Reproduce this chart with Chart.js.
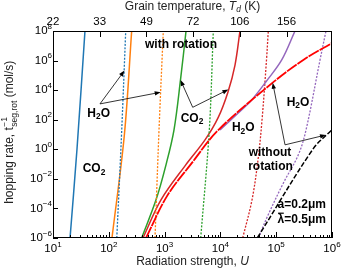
<!DOCTYPE html>
<html>
<head>
<meta charset="utf-8">
<script src="https://cdn.jsdelivr.net/npm/chart.js@4.4.0/dist/chart.umd.min.js"></script>
<style>
  html, body { margin: 0; padding: 0; background: #fff; }
</style>
</head>
<body>
<canvas id="chart" width="346" height="273"></canvas>
<script>
// axis ticks
const xExponents = [1, 2, 3, 4, 5, 6];
const yExponents = [-6, -4, -2, 0, 2, 4, 6, 8];
const tempLabels = ['22', '33', '49', '72', '106', '156'];
const tempTickU = [10, 68.7, 472, 3243, 22280, 153100];

// curves: U values and hopping rates (mol/s)
const blueSolidU = [20.2, 26.9, 37.4];
const blueSolidRate = [1e-6, 1, 1e8];
const blueDotU = [139, 169, 201];
const blueDotRate = [1e-6, 9.3, 1e8];
const orangeSolidU = [114, 190, 257];
const orangeSolidRate = [1e-6, 9.3, 1e8];
const orangeDotU = [673, 794, 948];
const orangeDotRate = [1e-6, 20, 1e8];
const greenSolidU = [388, 702, 1059, 1472, 1927, 2421];
const greenSolidRate = [1e-6, 3.8e-4, 0.089, 20, 4.9e4, 1e8];
const greenDotU = [4436, 6324, 7464];
const greenDotRate = [1e-6, 20, 1e8];
const redSolidU = [410, 861, 2323, 5300, 9060, 13680, 18270, 22440];
const redSolidRate = [1e-6, 3.8e-4, 0.076, 4.3, 132, 7600, 5e5, 1e8];
const redDotU = [25100, 36800, 47200, 55700, 67000, 72100];
const redDotRate = [1e-6, 3.7e-4, 0.19, 95, 1.1e6, 1e8];
const purpleSolidU = [9840, 20650, 36400, 65600, 125600, 217300];
const purpleSolidRate = [20, 275, 2190, 3.7e4, 1.1e6, 1e8];
const purpleDotU = [47800, 71300, 134000, 249000, 342000, 610000, 780000];
const purpleDotRate = [1e-6, 3.5e-5, 5.1e-3, 0.42, 20, 1.1e6, 1e8];
const noRotRedU = [465, 1091, 3062, 9162, 86500, 306000, 989000];
const noRotRedRate = [1e-6, 6.3e-4, 0.115, 20, 3.2e4, 1.1e6, 1.5e7];
const noRotBlackU = [45800, 462000, 989000];
const noRotBlackRate = [1e-6, 1.1, 20];

// annotations (data coordinates)
const labels = [
  { runs: [['with rotation']], u: 1968, r: 1.1e7, align: 'center' },
  { runs: [['H'], ['2', 'sub'], ['O']], u: 65.9, r: 275, align: 'center' },
  { runs: [['CO'], ['2', 'sub']], u: 54.3, r: 0.046, align: 'center' },
  { runs: [['CO'], ['2', 'sub']], u: 3097, r: 126, align: 'center' },
  { runs: [['H'], ['2', 'sub'], ['O']], u: 25700, r: 27, align: 'center' },
  { runs: [['H'], ['2', 'sub'], ['O']], u: 246000, r: 1445, align: 'center' },
  { runs: [['without']], u: 77400, r: 0.6, align: 'center' },
  { runs: [['rotation']], u: 79000, r: 0.068, align: 'center' },
  { runs: [['a=0.2μm']], u: 780000, r: 1.7e-4, align: 'right' },
  { runs: [['λ', 'bar'], ['=0.5μm']], u: 780000, r: 1.7e-5, align: 'right' }
];
const arrows = [
  { from: [69.5, 1175], to: [191, 2.1e5] },
  { from: [69.5, 1175], to: [851, 7200] },
  { from: [3190, 690], to: [1927, 4.9e4] },
  { from: [3190, 690], to: [13900, 1.1e4] },
  { from: [143900, 2.0], to: [86500, 3.2e4] },
  { from: [143900, 2.0], to: [780000, 9.3] }
];

function series(u, r, color, dash, width, order) {
  return {
    data: u.map((v, i) => ({ x: v, y: r[i] })),
    borderColor: color,
    borderDash: dash,
    borderWidth: width,
    showLine: true,
    pointRadius: 0,
    fill: false,
    tension: 0.35,
    order: order
  };
}

const FONT = '"Liberation Sans", Arial, sans-serif';

function runFont(run, size, bold) {
  const small = run[1] === 'sub' || run[1] === 'sup';
  return (run[1] === 'it' ? 'italic ' : '') + (bold ? 'bold ' : '') + (small ? size * 0.7 : size) + 'px ' + FONT;
}

function drawRuns(ctx, runs, x, y, size, bold, align) {
  const w = runs.map(run => {
    ctx.font = runFont(run, size, bold);
    return ctx.measureText(run[0]).width;
  });
  const total = w.reduce((s, v) => s + v, 0);
  let cx = align === 'center' ? x - total / 2 : align === 'right' ? x - total : x;
  ctx.textBaseline = 'middle';
  ctx.textAlign = 'left';
  runs.forEach((run, i) => {
    ctx.font = runFont(run, size, bold);
    let dy = 0;
    if (run[1] === 'sub') dy = size * 0.3;
    if (run[1] === 'sup') dy = -size * 0.4;
    ctx.fillText(run[0], cx, y + dy);
    if (run[1] === 'bar') {
      ctx.save();
      ctx.lineWidth = 1.2;
      ctx.beginPath();
      ctx.moveTo(cx + 0.5, y - size * 0.55);
      ctx.lineTo(cx + w[i] - 0.5, y - size * 0.55);
      ctx.stroke();
      ctx.restore();
    }
    cx += w[i];
  });
}

function drawArrow(ctx, x0, y0, x1, y1) {
  const ang = Math.atan2(y1 - y0, x1 - x0);
  const len = 6, half = 2.2;
  ctx.beginPath();
  ctx.moveTo(x0, y0);
  ctx.lineTo(x1 - Math.cos(ang) * len * 0.8, y1 - Math.sin(ang) * len * 0.8);
  ctx.stroke();
  ctx.beginPath();
  ctx.moveTo(x1, y1);
  ctx.lineTo(x1 - Math.cos(ang) * len - Math.sin(ang) * half, y1 - Math.sin(ang) * len + Math.cos(ang) * half);
  ctx.lineTo(x1 - Math.cos(ang) * len + Math.sin(ang) * half, y1 - Math.sin(ang) * len - Math.cos(ang) * half);
  ctx.closePath();
  ctx.fill();
}

const decor = {
  id: 'decor',
  afterDatasetsDraw(chart) {
    const { ctx, chartArea: a, scales } = chart;
    const xs = scales.x, ys = scales.y;
    ctx.save();
    ctx.fillStyle = '#000';
    ctx.strokeStyle = '#000';

    // arrows
    ctx.lineWidth = 0.8;
    arrows.forEach(ar => {
      drawArrow(ctx, xs.getPixelForValue(ar.from[0]), ys.getPixelForValue(ar.from[1]),
        xs.getPixelForValue(ar.to[0]), ys.getPixelForValue(ar.to[1]));
    });

    // labels in plot
    labels.forEach(lb => {
      drawRuns(ctx, lb.runs, xs.getPixelForValue(lb.u), ys.getPixelForValue(lb.r), 12, true, lb.align);
    });

    // frame
    ctx.lineWidth = 1;
    ctx.strokeRect(a.left + 0.5, a.top + 0.5, a.right - a.left - 1, a.bottom - a.top - 1);

    // bottom ticks: majors + minors, inward
    ctx.beginPath();
    xExponents.forEach(e => {
      const px = Math.round(xs.getPixelForValue(Math.pow(10, e))) + 0.5;
      ctx.moveTo(px, a.bottom); ctx.lineTo(px, a.bottom - 6);
      if (e < 6) {
        for (let m = 2; m <= 9; m++) {
          const pm = Math.round(xs.getPixelForValue(m * Math.pow(10, e))) + 0.5;
          ctx.moveTo(pm, a.bottom); ctx.lineTo(pm, a.bottom - 3);
        }
      }
    });
    // left ticks
    yExponents.forEach(e => {
      const py = Math.round(ys.getPixelForValue(Math.pow(10, e))) + 0.5;
      ctx.moveTo(a.left, py); ctx.lineTo(a.left + 5, py);
    });
    // top temperature ticks
    tempTickU.forEach(u => {
      const px = Math.round(xs.getPixelForValue(u)) + 0.5;
      ctx.moveTo(px, a.top); ctx.lineTo(px, a.top + 6);
    });
    ctx.stroke();

    // tick labels
    xExponents.forEach(e => {
      drawRuns(ctx, [['10'], [String(e), 'sup']], xs.getPixelForValue(Math.pow(10, e)), a.bottom + 11, 11.5, false, 'center');
    });
    yExponents.forEach(e => {
      const t = e < 0 ? '\u2212' + Math.abs(e) : String(e);
      drawRuns(ctx, [['10'], [t, 'sup']], a.left - 1, ys.getPixelForValue(Math.pow(10, e)), 11.5, false, 'right');
    });
    tempTickU.forEach((u, i) => {
      drawRuns(ctx, [[tempLabels[i]]], xs.getPixelForValue(u), a.top - 9, 11.5, false, 'center');
    });

    // axis titles
    const xMid = (a.left + a.right) / 2;
    ctx.fillStyle = '#222';
    drawRuns(ctx, [['Radiation strength, '], ['U', 'it']], xMid, a.bottom + 24, 12, false, 'center');
    drawTitleTop(ctx, xMid, 7);
    ctx.save();
    ctx.translate(10, (a.top + a.bottom) / 2 - 2);
    ctx.rotate(-Math.PI / 2);
    drawYTitle(ctx);
    ctx.restore();
    ctx.restore();
  }
};

function drawTitleTop(ctx, x, y) {
  const size = 12;
  const parts = [
    ['Grain temperature, ', size + 'px ' + FONT, 0],
    ['T', 'italic ' + size + 'px ' + FONT, 0],
    ['d', 'italic ' + (size * 0.7) + 'px ' + FONT, 3],
    [' (K)', size + 'px ' + FONT, 0]
  ];
  let total = 0;
  parts.forEach(p => { ctx.font = p[1]; total += ctx.measureText(p[0]).width; });
  let cx = x - total / 2;
  ctx.textAlign = 'left';
  ctx.textBaseline = 'middle';
  parts.forEach(p => {
    ctx.font = p[1];
    ctx.fillText(p[0], cx, y + p[2]);
    cx += ctx.measureText(p[0]).width;
  });
}

function drawYTitle(ctx) {
  const size = 12, small = 8.5;
  ctx.textAlign = 'left';
  ctx.textBaseline = 'middle';
  ctx.font = size + 'px ' + FONT;
  const a = 'hopping rate, t';
  const c = ' (mol/s)';
  const wa = ctx.measureText(a).width;
  const wc = ctx.measureText(c).width;
  ctx.font = small + 'px ' + FONT;
  const wsub = ctx.measureText('seg,rot').width;
  const wsup = ctx.measureText('\u22121').width;
  const wb = Math.max(wsub, wsup);
  const total = wa + wb + wc;
  let cx = -total / 2;
  ctx.font = size + 'px ' + FONT;
  ctx.fillText(a, cx, 0);
  cx += wa + 0.5;
  ctx.font = small + 'px ' + FONT;
  ctx.fillText('\u22121', cx, -5);
  ctx.fillText('seg,rot', cx, 5);
  cx += wb;
  ctx.font = size + 'px ' + FONT;
  ctx.fillText(c, cx, 0);
}

const blue = '#1f77b4', orange = '#ff7f0e', green = '#2ca02c', red = '#d62728', purple = '#9467bd';
const dot = [2, 1.5];

new Chart(document.getElementById('chart'), {
  type: 'scatter',
  data: {
    datasets: [
      series(blueSolidU, blueSolidRate, blue, [], 1.5, 5),
      series(blueDotU, blueDotRate, blue, dot, 1.3, 5),
      series(orangeSolidU, orangeSolidRate, orange, [], 1.5, 5),
      series(orangeDotU, orangeDotRate, orange, dot, 1.3, 5),
      series(greenSolidU, greenSolidRate, green, [], 1.5, 5),
      series(greenDotU, greenDotRate, green, dot, 1.3, 5),
      series(redSolidU, redSolidRate, red, [], 1.5, 5),
      series(redDotU, redDotRate, red, dot, 1.3, 5),
      series(purpleSolidU, purpleSolidRate, purple, [], 1.5, 4),
      series(purpleDotU, purpleDotRate, purple, dot, 1.3, 4),
      series(noRotRedU, noRotRedRate, '#ff0000', [12, 1], 1.8, 1),
      series(noRotBlackU, noRotBlackRate, '#000000', [5, 2], 1.5, 1)
    ]
  },
  options: {
    responsive: false,
    animation: false,
    events: [],
    layout: { padding: { left: 53, top: 31, right: 14, bottom: 35 } },
    plugins: { legend: { display: false }, tooltip: { enabled: false } },
    scales: {
      x: { type: 'logarithmic', min: 10, max: 1e6, display: false },
      y: { type: 'logarithmic', min: 1e-6, max: 1e8, display: false }
    }
  },
  plugins: [decor]
});
</script>
</body>
</html>
